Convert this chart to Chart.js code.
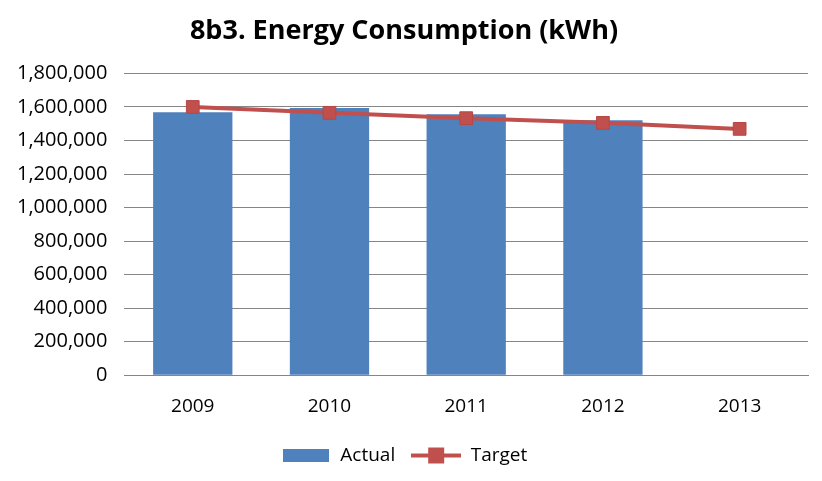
<!DOCTYPE html>
<html>
<head>
<meta charset="utf-8">
<script src="https://cdn.jsdelivr.net/npm/chart.js@4/dist/chart.umd.min.js"></script>
<style>
  html, body { margin: 0; padding: 0; background: #fff; }
  #wrap { width: 822px; height: 481px; }
</style>
</head>
<body>
<div id="wrap"><canvas id="grafico" width="822" height="481"></canvas></div>
<script>
const years = ['2009', '2010', '2011', '2012', '2013'];
const actual = [1569000, 1593000, 1556000, 1520000, null];
const target = [1600000, 1565000, 1533000, 1505000, 1469000];
const yTicks = [0, 200000, 400000, 600000, 800000, 1000000, 1200000, 1400000, 1600000, 1800000];

const blue = '#4F81BD';
const red = '#C0504D';

// legend icons
function barIcon() {
    const c = document.createElement('canvas');
    c.width = 46; c.height = 13;
    const g = c.getContext('2d');
    g.fillStyle = blue;
    g.fillRect(0, 0, 46, 13);
    return c;
}
function lineIcon() {
    const c = document.createElement('canvas');
    c.width = 50; c.height = 18;
    const g = c.getContext('2d');
    g.fillStyle = red;
    g.fillRect(0, 7, 50, 4);
    g.fillRect(17, 1, 16, 16);
    return c;
}

const ctx = document.getElementById('grafico').getContext('2d');
Chart.defaults.font.family = "'Open Sans', 'Liberation Sans', sans-serif";

new Chart(ctx, {
    data: {
        labels: years,
        datasets: [{
            type: 'line',
            label: 'Target',
            data: target,
            borderColor: red,
            backgroundColor: red,
            borderWidth: 4,
            pointStyle: 'rect',
            pointRadius: 9,
            pointBackgroundColor: red,
            pointBorderColor: '#B84744',
            pointBorderWidth: 1,
            tension: 0,
            order: 0
        }, {
            type: 'bar',
            label: 'Actual',
            data: actual,
            backgroundColor: blue,
            categoryPercentage: 0.58,
            barPercentage: 1.0,
            order: 1
        }]
    },
    options: {
        responsive: false,
        animation: false,
        layout: { padding: { left: 0, right: 14, top: 6, bottom: 6 } },
        scales: {
            x: {
                grid: { display: false },
                border: { display: true, color: '#868686', width: 1 },
                ticks: { color: '#000', font: { size: 19 }, padding: 12 }
            },
            y: {
                min: 0,
                max: 1800000,
                afterBuildTicks: axis => { axis.ticks = yTicks.map(v => ({ value: v })); },
                grid: { color: '#868686', lineWidth: 1, drawTicks: false },
                border: { display: false },
                ticks: {
                    color: '#000',
                    font: { size: 20 },
                    padding: 17,
                    callback: v => v.toLocaleString('en-US')
                }
            }
        },
        plugins: {
            title: {
                display: true,
                text: '8b3. Energy Consumption (kWh)',
                color: '#000',
                font: { size: 27, weight: 'bold' },
                padding: { top: 9, bottom: 26 }
            },
            legend: {
                position: 'bottom',
                labels: {
                    color: '#000',
                    font: { size: 19 },
                    usePointStyle: true,
                    pointStyleWidth: 50,
                    padding: 16,
                    generateLabels: chart => [
                        { text: 'Actual', pointStyle: barIcon(), fontColor: '#000', datasetIndex: 1, lineWidth: 0 },
                        { text: 'Target', pointStyle: lineIcon(), fontColor: '#000', datasetIndex: 0, lineWidth: 0 }
                    ]
                }
            },
            tooltip: { enabled: false }
        }
    }
});
</script>
</body>
</html>
